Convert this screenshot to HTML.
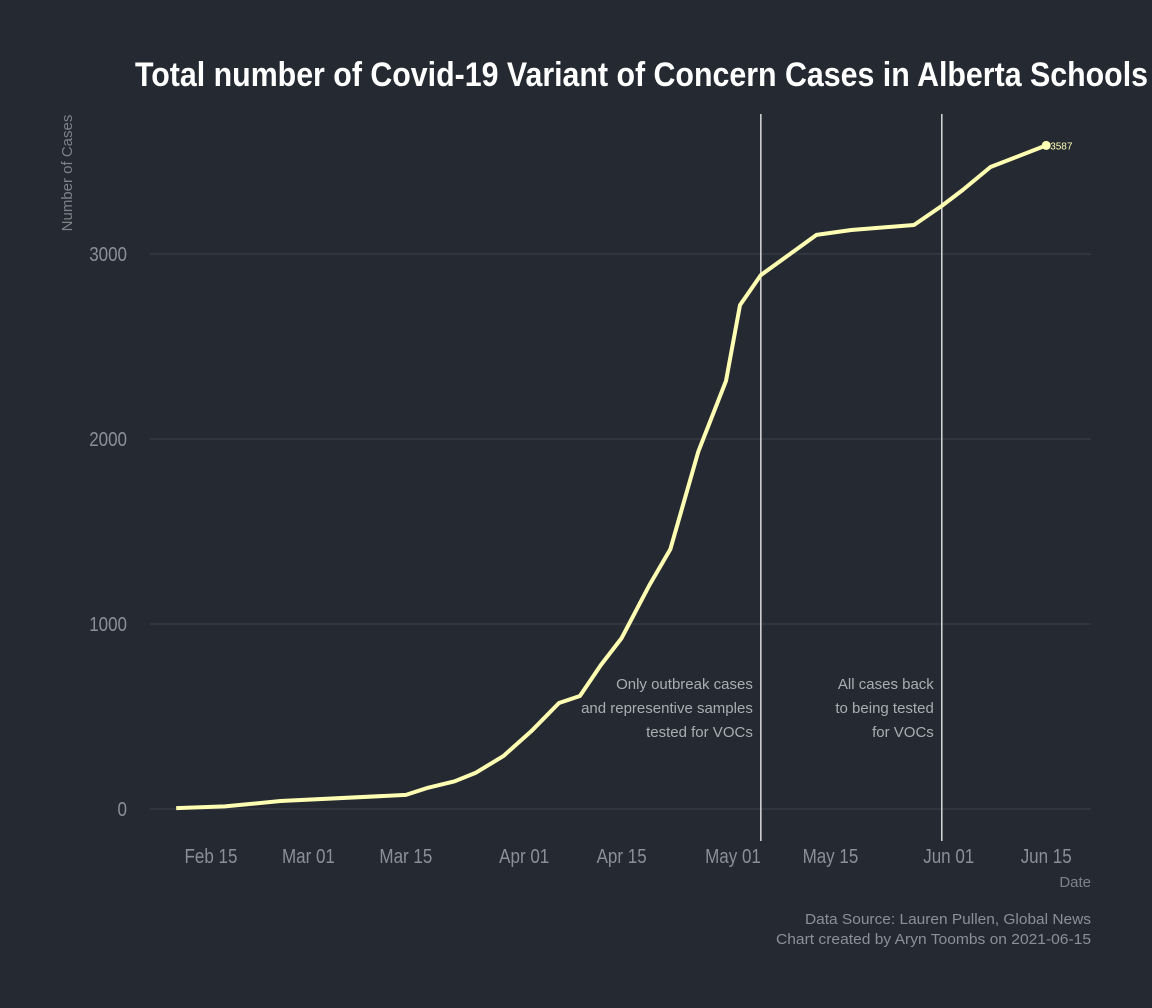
<!DOCTYPE html>
<html><head><meta charset="utf-8"><style>
html,body{margin:0;padding:0;background:#252a32;}
svg{display:block;font-family:"Liberation Sans",sans-serif;}
</style></head><body>
<svg id="chart" width="1152" height="1008">
<rect width="1152" height="1008" fill="#252a32"/>
<text x="135" y="86" fill="#ffffff" font-size="34" font-weight="bold" textLength="1013" lengthAdjust="spacingAndGlyphs">Total number of Covid-19 Variant of Concern Cases in Alberta Schools</text>
<text transform="translate(72,173) rotate(-90)" text-anchor="middle" fill="#7d828a" font-size="15">Number of Cases</text>
<text x="1091" y="887" text-anchor="end" fill="#7d828a" font-size="15">Date</text>
<text x="1091" y="924" text-anchor="end" fill="#8b9098" font-size="15" textLength="286" lengthAdjust="spacingAndGlyphs">Data Source: Lauren Pullen, Global News</text>
<text x="1091" y="944" text-anchor="end" fill="#8b9098" font-size="15" textLength="315" lengthAdjust="spacingAndGlyphs">Chart created by Aryn Toombs on 2021-06-15</text>
<g id="grid"></g><g id="marks"></g>
</svg>
<script>
const dates=["2021-02-10","2021-02-17","2021-02-25","2021-03-15","2021-03-18","2021-03-22","2021-03-25","2021-03-29","2021-04-02","2021-04-06","2021-04-09","2021-04-12","2021-04-15","2021-04-19","2021-04-22","2021-04-26","2021-04-30","2021-05-02","2021-05-05","2021-05-13","2021-05-18","2021-05-27","2021-05-31","2021-06-03","2021-06-07","2021-06-15"];
const cases=[5,14,43,76,113,150,195,286,420,573,611,778,924,1211,1405,1930,2314,2724,2886,3103,3130,3157,3260,3346,3470,3587];
const yTicks=[0,1000,2000,3000];
const xTickDates=["2021-02-15","2021-03-01","2021-03-15","2021-04-01","2021-04-15","2021-05-01","2021-05-15","2021-06-01","2021-06-15"];
const xTickLabels=["Feb 15","Mar 01","Mar 15","Apr 01","Apr 15","May 01","May 15","Jun 01","Jun 15"];
const eventDates=["2021-05-05","2021-05-31"];
const eventNotes=[["Only outbreak cases","and representive samples","tested for VOCs"],["All cases back","to being tested","for VOCs"]];
const NS="http://www.w3.org/2000/svg";
const t0=Date.parse("2021-02-15");
function dayOf(d){return (Date.parse(d)-t0)/86400000;}
function X(d){return 211+dayOf(d)*6.96;}
function Y(v){return 809-v*0.185;}
function mk(tag,attrs,parent){const e=document.createElementNS(NS,tag);for(const k in attrs)e.setAttribute(k,attrs[k]);parent.appendChild(e);return e;}
const grid=document.getElementById('grid'),marks=document.getElementById('marks');
yTicks.forEach(v=>{
  const l=mk('line',{x1:150,x2:1091,y1:Y(v),y2:Y(v),stroke:'#3b4049','stroke-width':1},grid);
  
  
  const t=mk('text',{x:127,y:Y(v)+7,'text-anchor':'end',fill:'#8b9098','font-size':20,transform:'translate(127,0) scale(0.85,1) translate(-127,0)'},grid);
  t.textContent=v;
  
  
});
xTickDates.forEach((d,i)=>{
  const x=X(d);
  const t=mk('text',{x:x,y:863,'text-anchor':'middle',fill:'#8b9098','font-size':20,transform:'translate('+x+',0) scale(0.85,1) translate('+(-x)+',0)'},grid);
  t.textContent=xTickLabels[i];
  
  
});
eventDates.forEach((d,i)=>{
  const x=X(d);
  const l=mk('line',{x1:x,x2:x,y1:114,y2:841,stroke:'#d8dadd','stroke-width':1.5},marks);
  
  
  eventNotes[i].forEach((s,j)=>{
    const t=mk('text',{x:x-8,y:689+j*24,'text-anchor':'end',fill:'#a9adb3','font-size':15},marks);
    t.textContent=s;
    
    
  });
});
const p=mk('path',{d:dates.map((d,i)=>(i?'L':'M')+X(d).toFixed(1)+','+Y(cases[i]).toFixed(1)).join(''),fill:'none',stroke:'#ffffb3','stroke-width':4,'stroke-linejoin':'round'},marks);


const n=dates.length-1;
const c=mk('circle',{cx:X(dates[n]),cy:Y(cases[n]),r:4.5,fill:'#ffffb3'},marks);


const lb=mk('text',{x:X(dates[n])+4,y:Y(cases[n])+4,fill:'#ffffb3','font-size':10},marks);
lb.textContent=cases[n];


</script>
</body></html>
